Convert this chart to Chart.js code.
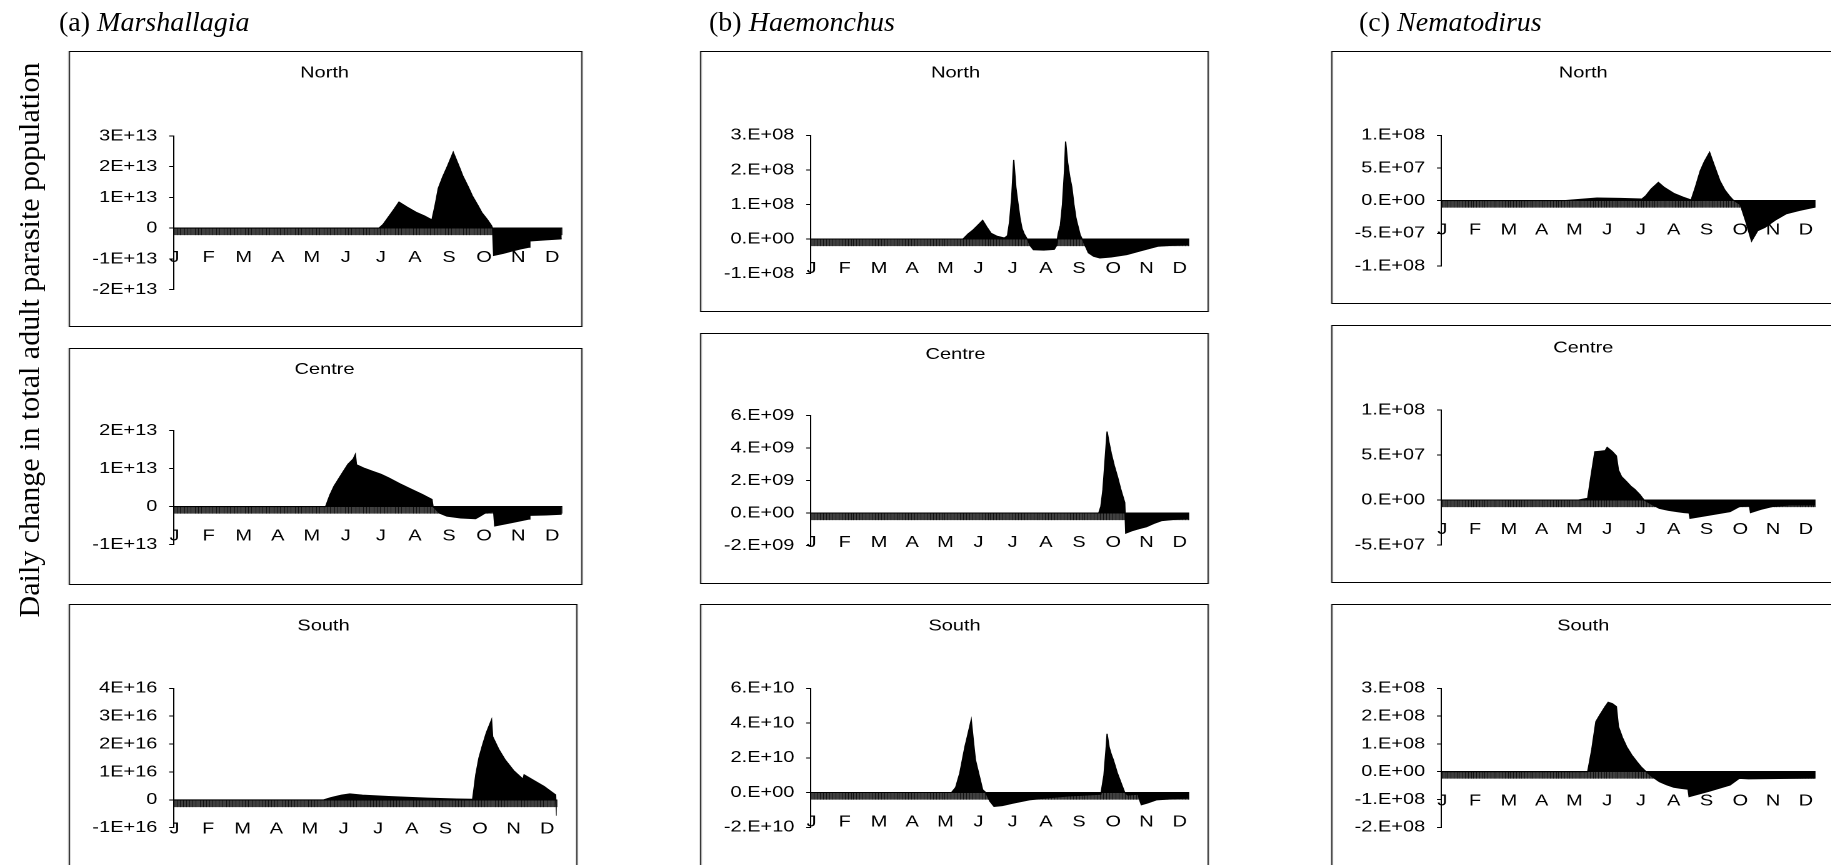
<!DOCTYPE html>
<html>
<head>
<meta charset="utf-8">
<title>Daily change in total adult parasite population</title>
<script src="https://cdn.jsdelivr.net/npm/chart.js@4.4.1/dist/chart.umd.min.js"></script>
<style>
  html, body { margin: 0; padding: 0; background: #fff; }
  body { width: 1831px; height: 865px; overflow: hidden; position: relative; }
  #stage { position: absolute; left: 0; top: 0; width: 1465px; height: 865px; transform: scaleX(1.25); transform-origin: 0 0; }
  .panel { position: absolute; box-sizing: border-box; border: 1px solid #000; background: #fff; overflow: hidden; }
  .panel canvas { position: absolute; left: 0; top: 0; }
  .genus { position: absolute; top: 8px; font: 28px/28px "Liberation Serif", "Times New Roman", serif; color: #000; white-space: nowrap; }
  .genus i { font-style: italic; }
  #ytitle { position: absolute; width: 640px; height: 36px; left: -291px; top: 322px; font: 30px/36px "Liberation Serif", "Times New Roman", serif; text-align: center; white-space: nowrap; transform: rotate(-90deg); color: #000; }
</style>
</head>
<body>
<div id="stage"></div>
<div class="genus" style="left:59px">(a) <i>Marshallagia</i></div>
<div class="genus" style="left:709px">(b) <i>Haemonchus</i></div>
<div class="genus" style="left:1359px">(c) <i>Nematodirus</i></div>
<div id="ytitle">Daily change in total adult parasite population</div>
<script>
// ---- month axis ----
const monthLetters = ['J', 'F', 'M', 'A', 'M', 'J', 'J', 'A', 'S', 'O', 'N', 'D'];
const monthLabelDays = [1, 33, 66, 98, 130, 162, 195, 227, 259, 292, 324, 356];

// ---- (a) Marshallagia ----
const marNorthDay = [0, 193, 197, 202, 207, 212, 220, 228, 236, 243, 246, 249, 253, 258, 263, 268, 272, 277, 281, 286, 290, 295, 299, 300, 301, 310, 318, 326, 334, 335, 350, 365];
const marNorthVal = [0, 0, 0.12e13, 0.36e13, 0.6e13, 0.85e13, 0.68e13, 0.52e13, 0.4e13, 0.27e13, 0.75e13, 1.3e13, 1.66e13, 2.05e13, 2.47e13, 2.05e13, 1.7e13, 1.35e13, 1.05e13, 0.75e13, 0.5e13, 0.28e13, 0.08e13, 0, -0.89e13, -0.82e13, -0.75e13, -0.68e13, -0.62e13, -0.42e13, -0.38e13, -0.35e13];
const marNorthTicks = [-2e13, -1e13, 0, 1e13, 2e13, 3e13];
const marNorthTickLabels = ['-2E+13', '-1E+13', '0', '1E+13', '2E+13', '3E+13'];

const marCentreDay = [0, 143, 147, 151, 158, 164, 169, 171, 172, 180, 187, 195, 202, 213, 224, 234, 243, 244, 250, 257, 270, 284, 289, 293, 301, 302, 318, 334, 335, 350, 365];
const marCentreVal = [0, 0, 0.3e13, 0.54e13, 0.85e13, 1.11e13, 1.25e13, 1.37e13, 1.1e13, 1.0e13, 0.93e13, 0.85e13, 0.76e13, 0.6e13, 0.45e13, 0.32e13, 0.19e13, 0, -0.17e13, -0.25e13, -0.3e13, -0.32e13, -0.24e13, -0.17e13, -0.14e13, -0.51e13, -0.42e13, -0.33e13, -0.23e13, -0.22e13, -0.2e13];
const marCentreTicks = [-1e13, 0, 1e13, 2e13];
const marCentreTickLabels = ['-1E+13', '0', '1E+13', '2E+13'];

const marSouthDay = [0, 143, 150, 160, 168, 180, 205, 242, 270, 285, 288, 291, 294, 298, 303, 304, 310, 316, 324, 333, 334, 344, 353, 364, 365];
const marSouthVal = [0, 0, 0.08e16, 0.17e16, 0.215e16, 0.17e16, 0.12e16, 0.06e16, 0.03e16, 0.02e16, 0.9e16, 1.5e16, 1.91e16, 2.4e16, 2.87e16, 2.27e16, 1.8e16, 1.43e16, 1.05e16, 0.74e16, 0.9e16, 0.68e16, 0.48e16, 0.18e16, -0.57e16];
const marSouthTicks = [-1e16, 0, 1e16, 2e16, 3e16, 4e16];
const marSouthTickLabels = ['-1E+16', '0', '1E+16', '2E+16', '3E+16', '4E+16'];

// ---- (b) Haemonchus ----
const haeNorthDay = [0, 147, 152, 157, 162, 166, 170, 174, 180, 187, 190, 192, 194, 196, 198, 200, 202, 204, 206, 209, 212, 215, 225, 235, 237, 239, 241, 243, 245, 246, 248, 250, 252, 254, 256, 258, 260, 262, 265, 268, 273, 279, 290, 305, 320, 335, 350, 365];
const haeNorthVal = [0, 0, 0.15e8, 0.27e8, 0.42e8, 0.54e8, 0.35e8, 0.17e8, 0.08e8, 0.03e8, 0.1e8, 0.5e8, 1.2e8, 2.29e8, 1.5e8, 1.04e8, 0.6e8, 0.3e8, 0.15e8, 0, -0.2e8, -0.31e8, -0.32e8, -0.3e8, -0.2e8, 0.17e8, 0.4e8, 1.0e8, 2.0e8, 2.82e8, 2.2e8, 1.8e8, 1.5e8, 1.0e8, 0.6e8, 0.36e8, 0.12e8, 0, -0.2e8, -0.4e8, -0.5e8, -0.55e8, -0.52e8, -0.45e8, -0.33e8, -0.21e8, -0.18e8, -0.16e8];
const haeNorthTicks = [-1e8, 0, 1e8, 2e8, 3e8];
const haeNorthTickLabels = ['-1.E+08', '0.E+00', '1.E+08', '2.E+08', '3.E+08'];

const haeCentreDay = [0, 278, 280, 282, 284, 286, 288, 290, 293, 296, 299, 303, 304, 310, 317, 324, 331, 339, 350, 365];
const haeCentreVal = [0, 0, 0.4e9, 1.42e9, 3.2e9, 5.02e9, 4.3e9, 3.68e9, 2.9e9, 2.24e9, 1.5e9, 0.64e9, -1.25e9, -1.1e9, -0.97e9, -0.85e9, -0.65e9, -0.47e9, -0.4e9, -0.33e9];
const haeCentreTicks = [-2e9, 0, 2e9, 4e9, 6e9];
const haeCentreTickLabels = ['-2.E+09', '0.E+00', '2.E+09', '4.E+09', '6.E+09'];

const haeSouthDay = [0, 136, 140, 144, 149, 152, 155, 157, 159, 163, 166, 169, 173, 177, 185, 195, 211, 230, 249, 265, 280, 283, 285, 286, 288, 290, 292, 296, 299, 303, 306, 316, 317, 319, 325, 334, 350, 365];
const haeSouthVal = [0, 0, 0.3e10, 1.12e10, 2.65e10, 3.4e10, 4.18e10, 3.0e10, 1.88e10, 0.9e10, 0.16e10, 0, -0.5e10, -0.8e10, -0.75e10, -0.62e10, -0.42e10, -0.3e10, -0.2e10, -0.15e10, -0.1e10, 1.0e10, 2.5e10, 3.38e10, 2.6e10, 2.2e10, 1.88e10, 1.1e10, 0.63e10, 0, -0.15e10, -0.1e10, -0.35e10, -0.71e10, -0.6e10, -0.42e10, -0.36e10, -0.32e10];
const haeSouthTicks = [-2e10, 0, 2e10, 4e10, 6e10];
const haeSouthTickLabels = ['-2.E+10', '0.E+00', '2.E+10', '4.E+10', '6.E+10'];

// ---- (c) Nematodirus ----
const nemNorthDay = [0, 120, 135, 152, 175, 196, 200, 205, 212, 218, 227, 236, 244, 248, 253, 257, 262, 267, 272, 277, 282, 285, 292, 297, 303, 309, 316, 326, 337, 350, 365];
const nemNorthVal = [0, 0, 0.2e7, 0.41e7, 0.35e7, 0.25e7, 0.8e7, 1.8e7, 2.8e7, 2.0e7, 1.12e7, 0.55e7, 0.1e7, 2.0e7, 4.6e7, 6.0e7, 7.4e7, 5.2e7, 3.06e7, 1.6e7, 0.6e7, 0.1e7, -0.6e7, -3.0e7, -6.2e7, -4.6e7, -4.1e7, -3.0e7, -2.0e7, -1.5e7, -1.0e7];
const nemNorthTicks = [-1e8, -5e7, 0, 5e7, 1e8];
const nemNorthTickLabels = ['-1.E+08', '-5.E+07', '0.E+00', '5.E+07', '1.E+08'];

const nemCentreDay = [0, 134, 143, 146, 150, 155, 160, 162, 167, 171, 173, 176, 181, 185, 189, 194, 198, 205, 213, 222, 231, 237, 242, 243, 262, 282, 291, 301, 302, 312, 323, 340, 365];
const nemCentreVal = [0, 0, 0.19e7, 2.5e7, 5.37e7, 5.42e7, 5.48e7, 5.85e7, 5.4e7, 4.9e7, 3.33e7, 2.6e7, 2.04e7, 1.55e7, 1.19e7, 0.6e7, 0, -0.45e7, -0.93e7, -1.15e7, -1.3e7, -1.4e7, -1.45e7, -2.04e7, -1.68e7, -1.3e7, -0.74e7, -0.67e7, -1.41e7, -1.05e7, -0.74e7, -0.56e7, -0.56e7];
const nemCentreTicks = [-5e7, 0, 5e7, 1e8];
const nemCentreTickLabels = ['-5.E+07', '0.E+00', '5.E+07', '1.E+08'];

const nemSouthDay = [0, 143, 147, 151, 155, 160, 163, 167, 171, 173, 177, 181, 186, 191, 195, 200, 206, 213, 220, 227, 234, 241, 242, 262, 282, 291, 300, 320, 340, 365];
const nemSouthVal = [0, 0, 0.8e8, 1.8e8, 2.05e8, 2.34e8, 2.5e8, 2.45e8, 2.34e8, 1.62e8, 1.22e8, 0.9e8, 0.6e8, 0.36e8, 0.18e8, 0, -0.18e8, -0.36e8, -0.47e8, -0.56e8, -0.6e8, -0.63e8, -0.9e8, -0.7e8, -0.48e8, -0.24e8, -0.26e8, -0.25e8, -0.24e8, -0.23e8];
const nemSouthTicks = [-2e8, -1e8, 0, 1e8, 2e8, 3e8];
const nemSouthTickLabels = ['-2.E+08', '-1.E+08', '0.E+00', '1.E+08', '2.E+08', '3.E+08'];

// ---- drawing ----
const S = 1.25;                       // horizontal stretch applied to #stage
const FONT = '"Liberation Sans", Arial, sans-serif';
const LABEL_SIZE = 16;
const dayTicks = [];                  // one tick mark per day along the zero line
for (let d = 0; d <= 365; d++) dayTicks.push(d);

// page geometry in screen px: box [left, top, right, bottom], plot x-range, y of top/bottom tick, title centre
const panels = [
  { title: 'North',  days: marNorthDay,  vals: marNorthVal,  ticks: marNorthTicks,  labels: marNorthTickLabels,
    box: [69.2, 50.7, 582.4, 327.3], plotX: [173.9, 562.2], yTop: 135.7, yBot: 289.3, titleX: 325, titleY: 72.7 },
  { title: 'Centre', days: marCentreDay, vals: marCentreVal, ticks: marCentreTicks, labels: marCentreTickLabels,
    box: [69.2, 348.3, 582.4, 585], plotX: [173.9, 562.2], yTop: 430.7, yBot: 545, titleX: 325, titleY: 370 },
  { title: 'South',  days: marSouthDay,  vals: marSouthVal,  ticks: marSouthTicks,  labels: marSouthTickLabels,
    box: [69.2, 604, 577.7, 880], plotX: [173.9, 557.1], yTop: 688.3, yBot: 827.7, titleX: 324, titleY: 626 },
  { title: 'North',  days: haeNorthDay,  vals: haeNorthVal,  ticks: haeNorthTicks,  labels: haeNorthTickLabels,
    box: [699.5, 50.7, 1208.8, 312.3], plotX: [810, 1188.5], yTop: 135, yBot: 273.3, titleX: 955, titleY: 72.7 },
  { title: 'Centre', days: haeCentreDay, vals: haeCentreVal, ticks: haeCentreTicks, labels: haeCentreTickLabels,
    box: [699.5, 333.3, 1208.8, 584], plotX: [810, 1188.5], yTop: 416, yBot: 545.7, titleX: 955, titleY: 355 },
  { title: 'South',  days: haeSouthDay,  vals: haeSouthVal,  ticks: haeSouthTicks,  labels: haeSouthTickLabels,
    box: [699.5, 604, 1208.8, 880], plotX: [810, 1188.5], yTop: 688.3, yBot: 827.3, titleX: 954, titleY: 626 },
  { title: 'North',  days: nemNorthDay,  vals: nemNorthVal,  ticks: nemNorthTicks,  labels: nemNorthTickLabels,
    box: [1331, 50.7, 1845, 304], plotX: [1441, 1814.8], yTop: 135, yBot: 265.7, titleX: 1583, titleY: 72.7 },
  { title: 'Centre', days: nemCentreDay, vals: nemCentreVal, ticks: nemCentreTicks, labels: nemCentreTickLabels,
    box: [1331, 325, 1845, 583], plotX: [1441, 1814.8], yTop: 410, yBot: 545, titleX: 1583, titleY: 348.3 },
  { title: 'South',  days: nemSouthDay,  vals: nemSouthVal,  ticks: nemSouthTicks,  labels: nemSouthTickLabels,
    box: [1331, 604, 1845, 880], plotX: [1441, 1814.8], yTop: 688.3, yBot: 827.3, titleX: 1583, titleY: 626 }
];

function buildPanel(p) {
  const stage = document.getElementById('stage');
  const L = p.box[0] / S, R = p.box[2] / S, T = p.box[1], B = p.box[3];
  const div = document.createElement('div');
  div.className = 'panel';
  div.style.left = L + 'px';
  div.style.top = T + 'px';
  div.style.width = (R - L) + 'px';
  div.style.height = (B - T) + 'px';
  stage.appendChild(div);

  const cw = Math.round(R - L - 2), ch = Math.round(B - T - 2);
  const canvas = document.createElement('canvas');
  canvas.width = cw; canvas.height = ch;
  canvas.style.width = cw + 'px'; canvas.style.height = ch + 'px';
  div.appendChild(canvas);

  // convert to canvas-local logical px
  const ox = L + 1, oy = T + 1;
  const plotL = p.plotX[0] / S - ox, plotR = p.plotX[1] / S - ox;
  const top = p.yTop - oy, bottom = p.yBot - oy;
  const tc = p.titleX / S - ox;
  const padRight = cw - plotR;
  const padLeft = Math.max(0, 2 * tc - plotR);
  const yWidth = plotL - padLeft;
  const lh = LABEL_SIZE * 1.2;
  const tTop = p.titleY - oy - lh / 2;
  const tBottom = top - tTop - lh;

  new Chart(canvas, {
    type: 'line',
    data: {
      datasets: [{
        data: p.days.map((d, i) => ({ x: d, y: p.vals[i] })),
        fill: 'origin',
        backgroundColor: '#000',
        borderColor: '#000',
        borderWidth: 1,
        pointRadius: 0,
        tension: 0
      }]
    },
    options: {
      responsive: false,
      animation: false,
      devicePixelRatio: 2,
      layout: { padding: { left: padLeft, right: padRight, top: 0, bottom: ch - bottom } },
      plugins: {
        legend: { display: false },
        tooltip: { enabled: false },
        title: {
          display: true, text: p.title, color: '#000',
          font: { family: FONT, size: LABEL_SIZE, weight: 'normal', lineHeight: 1.2 },
          padding: { top: tTop, bottom: tBottom }
        }
      },
      scales: {
        x: {
          type: 'linear', position: { y: 0 }, min: 0, max: 365,
          afterBuildTicks: ax => { ax.ticks = dayTicks.map(v => ({ value: v })); },
          grid: { drawOnChartArea: false, drawTicks: true, tickLength: 6.6, color: '#000', lineWidth: 0.75 },
          border: { display: true, color: '#000', width: 1 },
          ticks: {
            autoSkip: false, maxRotation: 0, minRotation: 0, padding: 13.3, color: '#000',
            font: { family: FONT, size: LABEL_SIZE },
            callback: v => { const k = monthLabelDays.indexOf(v); return k < 0 ? '' : monthLetters[k]; }
          }
        },
        y: {
          type: 'linear', position: 'left',
          min: p.ticks[0], max: p.ticks[p.ticks.length - 1],
          afterBuildTicks: ax => { ax.ticks = p.ticks.map(v => ({ value: v })); },
          afterFit: ax => { ax.width = yWidth; },
          grid: { drawOnChartArea: false, drawTicks: true, tickLength: 3.44, color: '#000' },
          border: { display: true, color: '#000', width: 1 },
          ticks: {
            padding: 9.4, color: '#000',
            font: { family: FONT, size: LABEL_SIZE },
            callback: (v, i) => p.labels[i]
          }
        }
      }
    }
  });
}

panels.forEach(buildPanel);
</script>
</body>
</html>
